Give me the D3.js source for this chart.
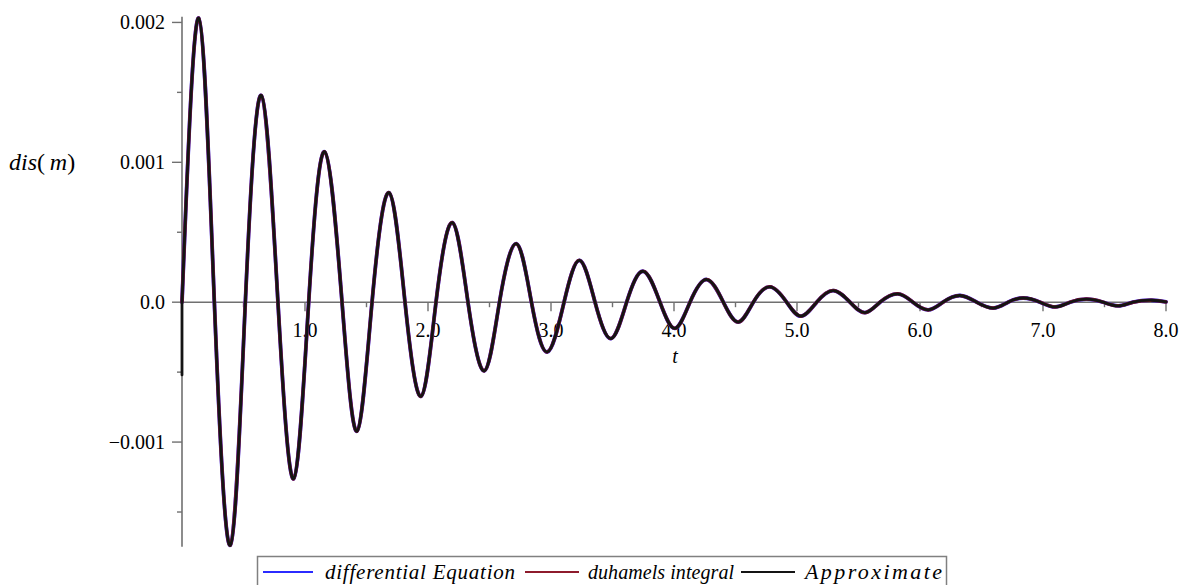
<!DOCTYPE html>
<html>
<head>
<meta charset="utf-8">
<script src="https://cdn.jsdelivr.net/npm/d3@7"></script>
<style>
  html, body { margin: 0; padding: 0; background: #fff; }
  svg { display: block; }
  text { font-family: "Liberation Serif", "Times New Roman", serif; fill: #000; }
</style>
</head>
<body>
<svg id="chart" width="1181" height="585"></svg>
<script>
// Time samples (s): extrema and zero crossings of the free-vibration response
const timeS = [
  0, 0.136, 0.263, 0.393, 0.515, 0.645, 0.780, 0.908, 1.030, 1.160,
  1.301, 1.423, 1.545, 1.683, 1.813, 1.943, 2.065, 2.198, 2.325, 2.458,
  2.581, 2.718, 2.841, 2.970, 3.106, 3.233, 3.358, 3.488, 3.615, 3.750,
  3.886, 4.008, 4.130, 4.266, 4.401, 4.523, 4.645, 4.780, 4.916, 5.033,
  5.160, 5.295, 5.431, 5.553, 5.675, 5.819, 5.942, 6.067, 6.187, 6.325,
  6.461, 6.596, 6.715, 6.840, 6.976, 7.098, 7.220, 7.355, 7.488, 7.612,
  7.732, 7.884, 8.0
];

// Displacement (m) from the differential equation solution
const dispDiffEq = [
  0, 0.002031, 0, -0.001737, 0, 0.001478, 0, -0.001262, 0, 0.001075,
  0, -0.000922, 0, 0.000783, 0, -0.000673, 0, 0.000569, 0, -0.000491,
  0, 0.000418, 0, -0.000356, 0, 0.000299, 0, -0.000260, 0, 0.000221,
  0, -0.000187, 0, 0.000162, 0, -0.000142, 0, 0.000110, 0, -0.000100,
  0, 0.000083, 0, -0.000075, 0, 0.000060, 0, -0.000055, 0, 0.000048,
  0, -0.000042, 0, 0.000030, 0, -0.000034, 0, 0.000022, 0, -0.000026,
  0, 0.000014, 0.000002
];

// Duhamel's integral gives the same response at plotting resolution
const dispDuhamel = dispDiffEq;

// Approximate (step-by-step) solution: same response, but it starts
// from a non-zero displacement at t = 0
const dispApprox = dispDiffEq;
const approxStart = -0.00052;

const xTicksMajor = [1, 2, 3, 4, 5, 6, 7, 8];
const xTickLabels = ["1.0", "2.0", "3.0", "4.0", "5.0", "6.0", "7.0", "8.0"];
const xTicksMinor = [0.5, 1.5, 2.5, 3.5, 4.5, 5.5, 6.5, 7.5];
const yTicksMajor = [-0.001, 0, 0.001, 0.002];
const yTickLabels = ["\u22120.001", "0.0", "0.001", "0.002"];
const yTicksMinor = [-0.0015, -0.0005, 0.0005, 0.0015];

const seriesNames = ["differential Equation", "duhamels integral", "Approximate"];
const seriesColors = ["#2b2bff", "#8e1b2c", "#141414"];

const svg = d3.select("#chart");

const x = d3.scaleLinear().domain([0, 8]).range([182, 1166]);
const y = d3.scaleLinear().domain([-0.001748, 0.002041]).range([546.7, 16.7]);

const axisColor = "#707070";

// ---- axes -------------------------------------------------------------
const axes = svg.append("g");

// horizontal axis along y = 0
axes.append("line")
  .attr("x1", x(0)).attr("x2", x(8))
  .attr("y1", y(0)).attr("y2", y(0))
  .attr("stroke", axisColor).attr("stroke-width", 1.6);

// vertical axis along t = 0
axes.append("line")
  .attr("x1", x(0)).attr("x2", x(0))
  .attr("y1", y.range()[1]).attr("y2", y.range()[0])
  .attr("stroke", axisColor).attr("stroke-width", 1.6);

// t ticks (pointing down)
axes.selectAll(".xmaj").data(xTicksMajor).join("line")
  .attr("x1", d => x(d)).attr("x2", d => x(d))
  .attr("y1", y(0)).attr("y2", y(0) + 9)
  .attr("stroke", axisColor).attr("stroke-width", 1.4);
axes.selectAll(".xmin").data(xTicksMinor).join("line")
  .attr("x1", d => x(d)).attr("x2", d => x(d))
  .attr("y1", y(0)).attr("y2", y(0) + 5)
  .attr("stroke", axisColor).attr("stroke-width", 1.4);

// displacement ticks (pointing left)
axes.selectAll(".ymaj").data(yTicksMajor).join("line")
  .attr("x1", x(0) - 10).attr("x2", x(0))
  .attr("y1", d => y(d)).attr("y2", d => y(d))
  .attr("stroke", axisColor).attr("stroke-width", 1.4);
axes.selectAll(".ymin").data(yTicksMinor).join("line")
  .attr("x1", x(0) - 5).attr("x2", x(0))
  .attr("y1", d => y(d)).attr("y2", d => y(d))
  .attr("stroke", axisColor).attr("stroke-width", 1.4);

// tick labels
svg.append("g").selectAll("text").data(xTicksMajor).join("text")
  .attr("x", d => x(d)).attr("y", y(0) + 35)
  .attr("text-anchor", "middle")
  .attr("font-size", 20)
  .text((d, i) => xTickLabels[i]);

svg.append("g").selectAll("text").data(yTicksMajor).join("text")
  .attr("x", x(0) - 17).attr("y", d => y(d))
  .attr("dy", "0.35em")
  .attr("text-anchor", "end")
  .attr("font-size", 20)
  .text((d, i) => yTickLabels[i]);

// axis titles
svg.append("text")
  .attr("x", 675).attr("y", 363)
  .attr("text-anchor", "middle")
  .attr("font-size", 20).attr("font-style", "italic")
  .text("t");

const yTitle = svg.append("text")
  .attr("x", 9).attr("y", 170)
  .attr("font-size", 24);
yTitle.append("tspan").attr("font-style", "italic").text("dis");
yTitle.append("tspan").text("(\u2009");
yTitle.append("tspan").attr("font-style", "italic").text("m");
yTitle.append("tspan").text(")");

// ---- curves -----------------------------------------------------------
const line = d3.line()
  .x(d => x(d[0]))
  .y(d => y(d[1]))
  .curve(d3.curveNatural);

const pts = vals => timeS.map((t, i) => [t, vals[i]]);

const curves = svg.append("g").attr("fill", "none")
  .attr("stroke-linejoin", "round").attr("stroke-linecap", "round");

curves.append("path")
  .attr("d", line(pts(dispDiffEq)))
  .attr("stroke", seriesColors[0]).attr("stroke-width", 3.8);

curves.append("path")
  .attr("d", line(pts(dispDuhamel)))
  .attr("stroke", seriesColors[1]).attr("stroke-width", 3.5);

// approximate solution: initial value, then the smooth response
const approxPath = "M" + x(0) + "," + y(approxStart) + "L" + line(pts(dispApprox)).slice(1);
curves.append("path")
  .attr("d", approxPath)
  .attr("stroke", seriesColors[2]).attr("stroke-width", 2.8);

// ---- legend -----------------------------------------------------------
const legend = svg.append("g");
legend.append("rect")
  .attr("x", 257.5).attr("y", 556.5)
  .attr("width", 689).attr("height", 36)
  .attr("fill", "#fff").attr("stroke", "#808080").attr("stroke-width", 1.5);

const legendItems = [
  { x0: 263, x1: 313, tx: 325, tw: 190, fs: 21 },
  { x0: 525, x1: 579, tx: 588, tw: 146, fs: 20 },
  { x0: 741, x1: 795, tx: 805, tw: 137, fs: 22 }
];

legendItems.forEach((it, i) => {
  legend.append("line")
    .attr("x1", it.x0).attr("x2", it.x1)
    .attr("y1", 572).attr("y2", 572)
    .attr("stroke", seriesColors[i]).attr("stroke-width", 2.2);
  legend.append("text")
    .attr("x", it.tx).attr("y", 579)
    .attr("font-size", it.fs).attr("font-style", "italic")
    .attr("textLength", it.tw).attr("lengthAdjust", "spacing")
    .text(seriesNames[i]);
});
</script>
</body>
</html>
